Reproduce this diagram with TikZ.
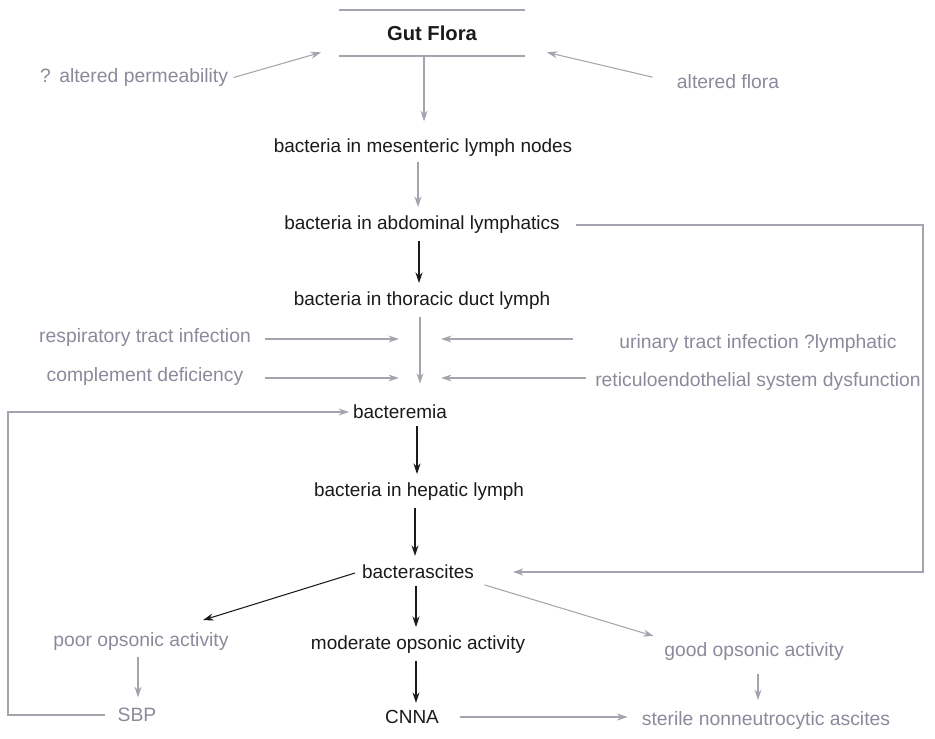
\documentclass[tikz,border=0pt]{standalone}
\usepackage{fontspec}
\setmainfont{Liberation Sans}
\usepackage{tikz}
\usetikzlibrary{arrows.meta,positioning,calc}
\usepackage{xcolor}
\definecolor{ink}{HTML}{1A1A1A}
\definecolor{faint}{HTML}{8A8A9C}
\definecolor{wire}{HTML}{A4A4AE}

\begin{document}
\begin{tikzpicture}[x=0.02cm, y=-0.02cm,
  main/.style={text=ink, inner sep=2pt, font=\fontsize{10.8}{12}\selectfont},
  side/.style={text=faint, inner sep=2pt, font=\fontsize{11}{13}\selectfont},
  darr/.style={-{Stealth[length=6pt,width=4pt]}, ink, line width=0.6pt},
  garr/.style={-{Stealth[length=6pt,width=4pt]}, wire, line width=0.6pt}]
  \useasboundingbox (0,0) rectangle (935,739);

  % Title box
  \node[main, font=\fontsize{11.5}{13}\selectfont\bfseries, minimum width=3.7cm, minimum height=0.92cm] (gut) at (432,33) {Gut Flora};
  \draw[wire, line width=1pt] (gut.north west) -- (gut.north east);
  \draw[wire, line width=1pt] (gut.south west) -- (gut.south east);

  % Influences on the gut
  \node[side] (perm) at (134,78) {?\ \,altered permeability};
  \node[side] (alt) at (728,82) {altered flora};
  \draw[garr, shorten <=1pt] (perm.east) -- ($(gut.south west)+(-18,-4)$);
  \draw[garr, shorten <=12pt] (alt.west) -- ($(gut.south east)+(22,-4)$);

  % Main chain
  \node[main] (mes) at (423,148) {bacteria in mesenteric lymph nodes};
  \node[main] (abd) at (422,225) {bacteria in abdominal lymphatics};
  \node[main] (tho) at (422,301) {bacteria in thoracic duct lymph};
  \node[main] (bsm) at (400,412) {bacteremia};
  \node[main] (hep) at (419,492) {bacteria in hepatic lymph};
  \node[main] (bsc) at (418,572) {bacterascites};

  \draw[garr, shorten >=8pt] (gut.south -| 424,0) -- (mes.north -| 424,0);
  \draw[garr, shorten <=1pt, shorten >=3pt] (mes.south -| 418,0) -- (abd.north -| 418,0);
  \draw[darr, shorten <=2pt, shorten >=3pt] (abd.south -| 419,0) -- (tho.north -| 419,0);
  \draw[garr, shorten <=2pt, shorten >=10pt] (tho.south -| 420,0) -- (bsm.north -| 420,0);
  \draw[darr, shorten <=2pt, shorten >=3pt] (bsm.south -| 417,0) -- (hep.north -| 417,0);
  \draw[darr, shorten <=2pt, shorten >=3pt] (hep.south -| 415,0) -- (bsc.north -| 415,0);

  % Factors feeding into bacteremia
  \coordinate (jt) at (420,339);
  \coordinate (jb) at (420,378);
  \node[side] (resp) at (145,338) {respiratory tract infection};
  \node[side] (comp) at (145,377) {complement deficiency};
  \node[side] (uti) at (758,344) {urinary tract infection ?lymphatic};
  \node[side] (res) at (758,382) {reticuloendothelial system dysfunction};
  \draw[garr, shorten <=6pt, shorten >=12pt] (resp.east |- jt) -- (jt);
  \draw[garr, shorten <=10pt, shorten >=12pt] (comp.east |- jb) -- (jb);
  \draw[garr, shorten <=24pt, shorten >=12pt] (uti.west |- jt) -- (jt);
  \draw[garr, shorten <=3pt, shorten >=12pt] (res.west |- jb) -- (jb);

  % Outcomes
  \node[side] (poor) at (141,641) {poor opsonic activity};
  \node[main] (mod) at (418,645) {moderate opsonic activity};
  \node[side] (good) at (754,651) {good opsonic activity};
  \node[side] (sbp) at (137,715) {SBP};
  \node[main] (cnna) at (412,717) {CNNA};
  \node[side] (ster) at (766,720) {sterile nonneutrocytic ascites};

  \draw[darr, shorten <=2pt] (bsc.west) -- ($(poor.north)+(62,-8)$);
  \draw[darr, shorten <=2pt, shorten >=3pt] (bsc.south -| 416,0) -- (mod.north -| 416,0);
  \draw[garr, shorten <=4pt, shorten >=4pt] (bsc.south east) -- (good.north west);
  \draw[garr, shorten <=2pt, shorten >=4pt] (poor.south -| 138,0) -- (sbp.north -| 138,0);
  \draw[darr, shorten <=2pt, shorten >=2pt] (mod.south -| 416,0) -- (cnna.north -| 416,0);
  \draw[garr, shorten <=6pt, shorten >=4pt] (good.south -| 758,0) -- (ster.north -| 758,0);
  \draw[garr, shorten <=10pt, shorten >=6pt] (cnna.east) -- (cnna.east -| ster.west);

  % Feedback loops
  \coordinate (lrail) at (8,560);
  \coordinate (rrail) at (923,400);
  \draw[wire, line width=0.6pt, -{Stealth[length=6pt,width=4pt]}, shorten <=5pt] (sbp.west) -| (lrail) |- (bsm.west);
  \draw[wire, line width=0.6pt, -{Stealth[length=6pt,width=4pt]}, shorten <=7pt, shorten >=20pt] (abd.east) -| (rrail) |- (bsc.east);
\end{tikzpicture}
\end{document}
